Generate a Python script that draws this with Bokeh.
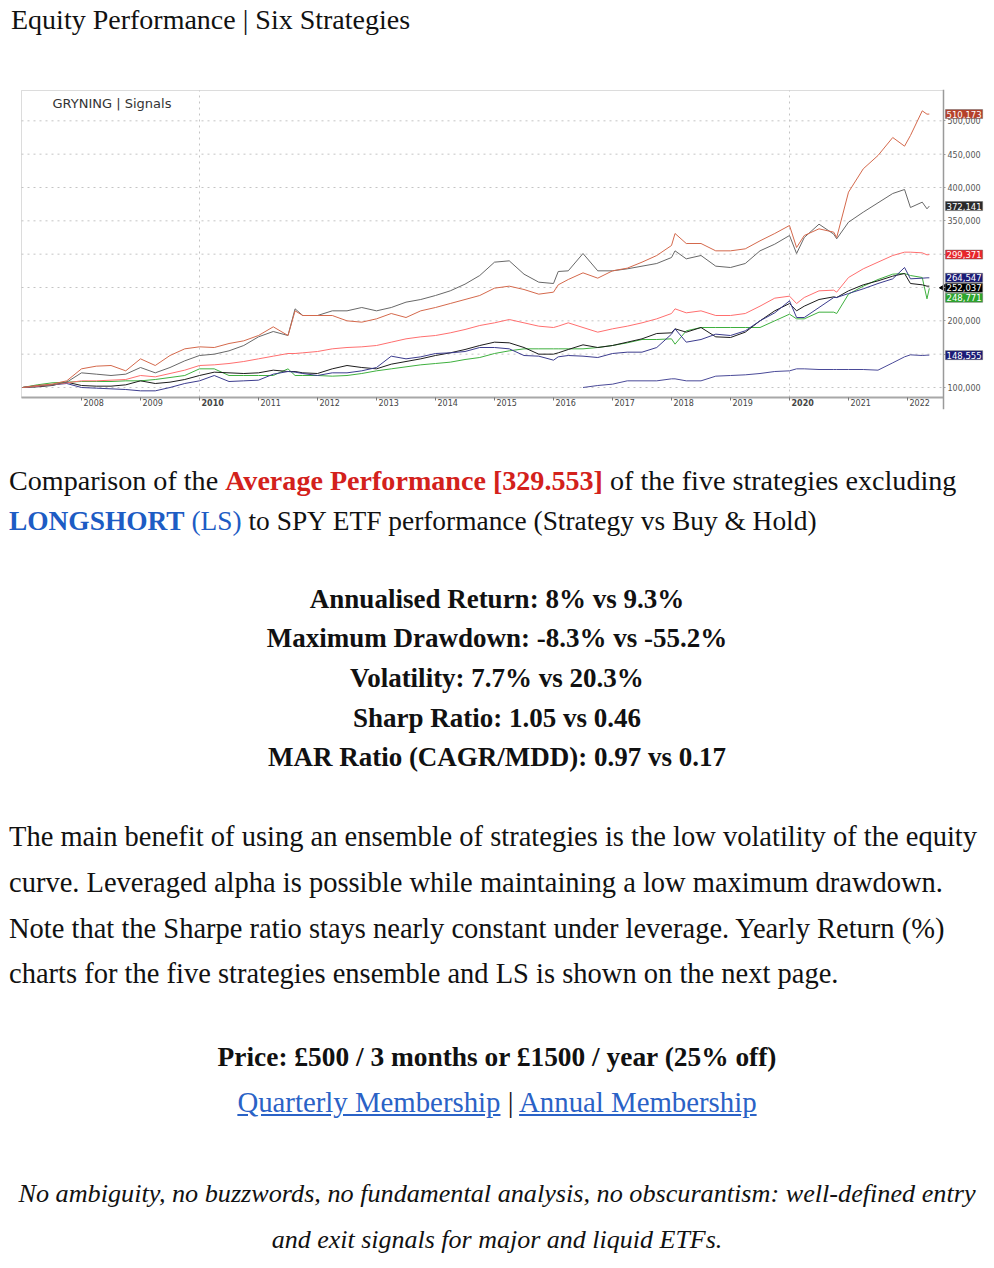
import math
from bokeh.plotting import figure
from bokeh.models import (ColumnDataSource, Label, LabelSet, FixedTicker,
                          NumeralTickFormatter, Range1d, Div, BoxAnnotation)
from bokeh.core.properties import value
from bokeh.layouts import column
from bokeh.embed import file_html
from bokeh.resources import INLINE

# ---------------- data (values in thousands) ----------------
dates = [2007.00, 2007.25, 2007.50, 2007.75,
         2008.00, 2008.25, 2008.50, 2008.75,
         2009.00, 2009.25, 2009.50, 2009.75,
         2010.00, 2010.25, 2010.50, 2010.75,
         2011.00, 2011.25, 2011.50, 2011.62, 2011.75,
         2012.00, 2012.25, 2012.50, 2012.75,
         2013.00, 2013.25, 2013.50, 2013.75,
         2014.00, 2014.25, 2014.50, 2014.75,
         2015.00, 2015.25, 2015.50, 2015.75,
         2016.00, 2016.08, 2016.25, 2016.50, 2016.75,
         2017.00, 2017.25, 2017.50, 2017.75,
         2018.00, 2018.06, 2018.25, 2018.50, 2018.75,
         2019.00, 2019.25, 2019.50, 2019.75,
         2020.00, 2020.12, 2020.25, 2020.50, 2020.75, 2020.80,
         2021.00, 2021.25, 2021.50, 2021.75, 2021.95,
         2022.05, 2022.25, 2022.33, 2022.37]

orange = [100, 103, 105, 110, 128, 132, 133, 125, 143, 133, 148, 158, 161, 160, 166, 170,
          178, 191, 178, 215, 208, 208, 208, 200, 198, 203, 211, 205, 215, 220, 226, 232, 238,
          249, 252, 247, 240, 243, 254, 262, 272, 264, 275, 279, 288, 298,
          313, 331, 316, 316, 305, 305, 308, 320, 331, 343, 310, 328, 338, 333, 325,
          393, 428, 448, 475, 462, 478, 515, 510, 510.173]
gray = [100, 103, 104, 108, 122, 120, 118, 120, 130, 122, 130, 140, 148, 150, 155, 163,
        176, 184, 178, 218, 208, 208, 215, 215, 220, 215, 220, 228, 232, 238, 245, 255, 268,
        288, 290, 270, 258, 256, 274, 275, 301, 275, 275, 278, 282, 286,
        295, 305, 293, 298, 282, 280, 286, 305, 315, 328, 301, 325, 345, 330, 323,
        348, 363, 377, 391, 397, 370, 378, 368, 372.141]
red = [100, 102, 104, 107, 110, 110, 111, 112, 118, 116, 121, 126, 133, 134, 136, 139,
       143, 147, 151, 151, 152, 154, 158, 160, 161, 163, 168, 173, 176, 178, 182, 187, 193,
       197, 202, 197, 192, 190, 192, 197, 190, 183, 188, 192, 197, 203,
       211, 218, 212, 215, 208, 208, 211, 222, 234, 237, 226, 235, 245, 246, 243,
       265, 278, 288, 298, 303, 303, 302, 299, 299.371]
navy = [100, 102, 104, 106, 100, 99, 98, 97, 95, 95, 100, 106, 110, 118, 109, 110,
        111, 120, 124, 123, 121, 118, 122, 122, 125, 130, 147, 143, 146, 151, 152, 154, 160,
        160, 158, 148, 147, 141, 146, 148, 147, 145, 151, 153, 153, 160,
        180, 188, 168, 172, 180, 178, 185, 200, 212, 230, 205, 205, 220, 235, 235,
        241, 248, 256, 263, 280, 263, 264, 264.5, 264.547]
black = [100, 101, 103, 108, 103, 102, 102, 104, 110, 106, 108, 112, 118, 123, 122, 121,
         122, 126, 124, 124, 122, 121, 128, 133, 130, 128, 135, 139, 143, 148, 152, 157, 163,
         168, 167, 160, 150, 150, 152, 157, 164, 160, 163, 168, 173, 181,
         182, 188, 183, 190, 176, 175, 183, 200, 215, 226, 215, 222, 232, 236, 235,
         245, 254, 260, 267, 271, 256, 254, 252, 252.037]
green = [100, 104, 107, 108, 109, 109, 109, 110, 110, 112, 115, 118, 128, 128, 118, 118,
         118, 118, 128, 118, 118, 118, 117, 118, 121, 125, 128, 131, 134, 136, 138, 142, 145,
         151, 155, 158, 158, 158, 158, 158, 158, 160, 163, 167, 172, 172,
         173, 165, 185, 190, 190, 190, 190, 190, 200, 210, 203, 203, 213, 213, 211,
         240, 252, 262, 270, 271, 268, 265, 233, 248.771]
navy_low = [None] * 40 + [100, 103, 105, 110, 110, 110,
                          113, 113, 110, 110, 117, 118, 119, 121, 124, 125, 128, 128, 127, 127, 127,
                          127, 127, 126, 137, 146, 149, 148, 148.5, 148.555]

series = [orange, gray, red, navy, black, green, navy_low]
line_colors = ["#d4694c", "#686868", "#ff6f6f", "#3c3c8e", "#1c1c1c", "#3fb03f", "#4a4a98"]
tag_colors = ["#b5412a", "#2a2a2a", "#e8262b", "#1b1b76", "#000000", "#2ca52c", "#1b1b76"]

years = [2008, 2009, 2010, 2011, 2012, 2013, 2014, 2015, 2016, 2017, 2018, 2019, 2020, 2021, 2022]
year_labels = [str(y) for y in years]
bold_years = [2010, 2020]
y_ticks = [100000, 150000, 200000, 250000, 300000, 350000, 400000, 450000, 500000]

# ---------------- chart geometry ----------------
X_LO, X_HI = 2006.966, 2023.339      # visible x span (incl. the value-tag area)
Y_LO, Y_HI = 67000, 547000           # visible y span (incl. the year-label strip)
X_BORDER, Y_BORDER = 2006.983, 545500
AXIS_X, AXIS_Y = 2022.61, 85000       # where the value axis / time axis sit
CHART_FONT = "DejaVu Sans"
GRID = "#c4c4c4"
FRAME = "#8c8c8c"

p = figure(width=968, height=322, x_range=Range1d(X_LO, X_HI), y_range=Range1d(Y_LO, Y_HI),
           output_backend="svg", toolbar_location=None, y_axis_location="right",
           min_border_left=1, min_border_top=1, min_border_right=1, min_border_bottom=1,
           margin=(0, 0, 0, 19))
p.background_fill_color = "white"
p.border_fill_color = "white"
p.outline_line_color = None
p.xgrid.visible = False
p.ygrid.visible = False

# dotted grid, ending at the value axis
p.segment(x0=X_BORDER, y0=y_ticks, x1=AXIS_X, y1=y_ticks,
          line_color=GRID, line_dash="2 4", line_width=1)
p.segment(x0=bold_years, y0=AXIS_Y, x1=bold_years, y1=Y_BORDER,
          line_color=GRID, line_dash="2 4", line_width=1)

yax = p.yaxis[0]
yax.fixed_location = AXIS_X
yax.ticker = FixedTicker(ticks=y_ticks)
yax.formatter = NumeralTickFormatter(format="0,0")
yax.major_label_text_font = CHART_FONT
yax.major_label_text_font_size = "8px"
yax.major_label_text_color = "#555555"
yax.axis_line_color = "#9a9a9a"
yax.axis_line_width = 1.5
yax.major_tick_in = 0
yax.major_tick_out = 2
yax.major_tick_line_color = "#9a9a9a"
yax.minor_tick_line_color = None
yax.major_label_standoff = 2

xax = p.xaxis[0]
xax.fixed_location = AXIS_Y
xax.bounds = (X_BORDER, AXIS_X)
xax.ticker = FixedTicker(ticks=years)
xax.major_label_overrides = {y: "" for y in years}
xax.axis_line_color = "#a8a8a8"
xax.axis_line_width = 2
xax.major_tick_in = 0
xax.major_tick_out = 3
xax.major_tick_line_color = "#777777"
xax.minor_tick_line_color = None
xax.major_label_standoff = 0

# image border (left / top / right edge = value axis)
p.add_layout(BoxAnnotation(left=X_BORDER, right=AXIS_X, bottom=AXIS_Y, top=Y_BORDER,
                           fill_color=None, line_color=FRAME, line_width=1, level="underlay"))

for vals, col in zip(series[::-1], line_colors[::-1]):
    ys = [float("nan") if v is None else v * 1000 for v in vals]
    p.line(dates, ys, line_color=col, line_width=1)

# year labels (right of each tick, decades in bold)
ysrc = ColumnDataSource(dict(x=years, text=year_labels,
                             style=["bold" if y in bold_years else "normal" for y in years]))
p.add_layout(LabelSet(x="x", y=7, y_units="screen", text="text", source=ysrc,
                      x_offset=2, text_align="left", text_baseline="middle",
                      text_font=value(CHART_FONT), text_font_size=value("8px"),
                      text_color=value("#444444"), text_font_style="style"))

# title inside the chart
p.add_layout(Label(x=32, y=306, x_units="screen", y_units="screen", text="GRYNING | Signals",
                   text_font=CHART_FONT, text_font_size="13px", text_color="#333333",
                   text_baseline="middle", text_align="left"))

# last-value tags on the value axis (pushed apart when they would overlap)
finals = [s[-1] * 1000 for s in series]
order = sorted(range(len(finals)), key=lambda i: -finals[i])
tag_y = {}
prev = None
for i in order:
    pos = finals[i] if prev is None else min(finals[i], prev - 15000)
    tag_y[i] = pos
    prev = pos
for i, v in enumerate(finals):
    p.add_layout(Label(x=AXIS_X, y=tag_y[i], x_offset=2, text=f"{round(v):,}",
                       text_font=CHART_FONT, text_font_size="8.5px", text_color="white",
                       text_baseline="middle", text_align="left",
                       background_fill_color=tag_colors[i], border_line_color="#666666",
                       border_line_width=0.5, padding=1))
# pointer in front of the black series' tag
p.scatter([AXIS_X], [tag_y[4]], marker="triangle", angle=math.pi / 2, size=7,
          fill_color="black", line_color="black")

# ---------------- page text ----------------
SERIF = "'Liberation Serif', 'Times New Roman', serif"
INK = "#111111"
RED = "#d3211b"
BLUE = "#1d5cc4"
LINK = "#2a62c6"
PAGE_W = 994


def line_html(center, html, F, align="left", left=9, extra=""):
    L = round(F * 1.2)
    top = center + 0.24 * F - ((L - 1.107 * F) / 2 + 0.891 * F)
    pad = f"padding-left:{left}px;box-sizing:border-box;" if align == "left" else ""
    return (f'<div style="position:absolute;left:0;top:{top:.1f}px;width:{PAGE_W}px;'
            f'text-align:{align};white-space:nowrap;font-size:{F}px;line-height:{L}px;'
            f'{pad}{extra}">{html}</div>')


def block(lines, h):
    return (f'<div style="position:relative;width:{PAGE_W}px;height:{h}px;font-family:{SERIF};'
            f'color:{INK};">' + "".join(lines) + '</div>')


TITLE_H = 88
title_div = Div(text=block([line_html(23, "Equity Performance | Six Strategies", 28, left=11)],
                           TITLE_H), width=PAGE_W, height=TITLE_H, margin=(0, 0, 0, 0))

T = 410 - 3  # page y of the text block, minus the visual offset of the glyphs
stats = ["Annualised Return: 8% vs 9.3%",
         "Maximum Drawdown: -8.3% vs -55.2%",
         "Volatility: 7.7% vs 20.3%",
         "Sharp Ratio: 1.05 vs 0.46",
         "MAR Ratio (CAGR/MDD): 0.97 vs 0.17"]
stat_centers = [599, 638, 678, 718, 757]
para = ["The main benefit of using an ensemble of strategies is the low volatility of the equity",
        "curve. Leveraged alpha is possible while maintaining a low maximum drawdown.",
        "Note that the Sharpe ratio stays nearly constant under leverage. Yearly Return (%)",
        "charts for the five strategies ensemble and LS is shown on the next page."]
para_centers = [837, 883, 929, 974]

lines = []
lines.append(line_html(481 - T, "Comparison of the "
                       f'<b style="color:{RED}">Average Performance [329.553]</b>'
                       " of the five strategies excluding", 28.1))
lines.append(line_html(521 - T, f'<span style="color:{BLUE}"><b>LONGSHORT</b> (LS)</span>'
                       " to SPY ETF performance (Strategy vs Buy &amp; Hold)", 27.4))
for c, s in zip(stat_centers, stats):
    lines.append(line_html(c - T, f"<b>{s}</b>", 27, align="center"))
for c, s in zip(para_centers, para):
    lines.append(line_html(c - T, s, 28.5))
lines.append(line_html(1057 - T, "<b>Price: £500 / 3 months or £1500 / year (25% off)</b>",
                       27.4, align="center"))
lines.append(line_html(1102 - T,
                       f'<span style="color:{LINK};text-decoration:underline">Quarterly Membership</span>'
                       " | "
                       f'<span style="color:{LINK};text-decoration:underline">Annual Membership</span>',
                       28.8, align="center"))
lines.append(line_html(1193 - T, "<i>No ambiguity, no buzzwords, no fundamental analysis, no "
                       "obscurantism: well-defined entry</i>", 26.2, align="center"))
lines.append(line_html(1239 - T, "<i>and exit signals for major and liquid ETFs.</i>",
                       26, align="center"))
BODY_H = 852
body_div = Div(text=block(lines, BODY_H), width=PAGE_W, height=BODY_H, margin=(0, 0, 0, 0))

layout = column(title_div, p, body_div, spacing=0)
open("out.html", "w").write(file_html(layout, INLINE))
